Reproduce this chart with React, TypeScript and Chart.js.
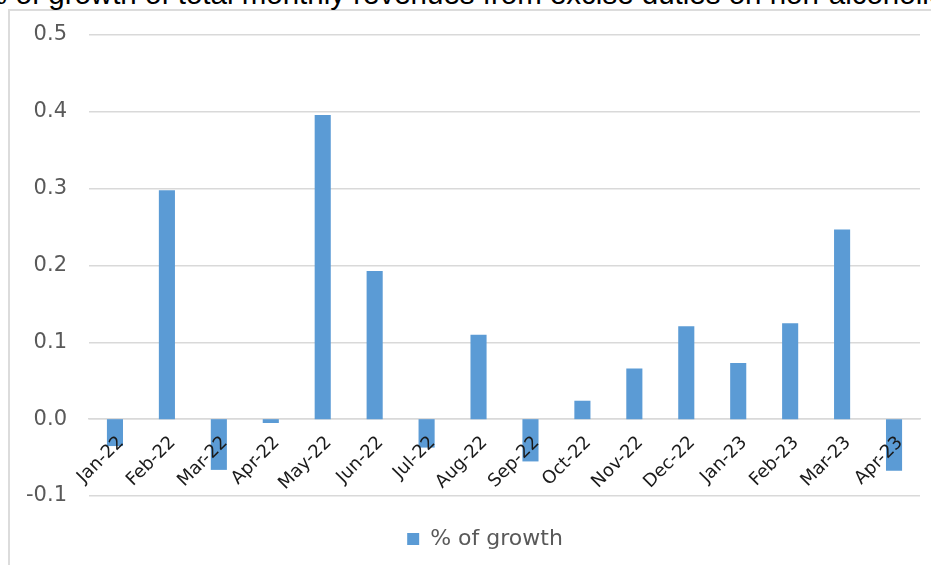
import React, { useEffect, useRef } from "react";
import { Chart, registerables } from "chart.js";

Chart.register(...registerables);

// Monthly categories on the horizontal axis
const months: string[] = [
  "Jan-22", "Feb-22", "Mar-22", "Apr-22", "May-22", "Jun-22", "Jul-22", "Aug-22",
  "Sep-22", "Oct-22", "Nov-22", "Dec-22", "Jan-23", "Feb-23", "Mar-23", "Apr-23",
];

// Month-on-month growth of excise revenues (share, not percent)
const growth: number[] = [
  -0.035, 0.298, -0.066, -0.005, 0.396, 0.193, -0.037, 0.110,
  -0.055, 0.024, 0.066, 0.121, 0.073, 0.125, 0.247, -0.067,
];

const seriesLabel = "% of growth";
const titleText = "% of growth of total monthly revenues from excise duties on non-alcoholic";

// Value axis range and spacing
const yMin = -0.1;
const yMax = 0.5;
const yStep = 0.1;

const BAR_BLUE = "#5B9BD5";
const GRID_GREY = "#d9d9d9";
const FONT = "'DejaVu Sans', Verdana, sans-serif";

// Nudges the bottom legend so it sits centred under the frame, lower down.
const legendPlacement = {
  id: "legendPlacement",
  afterLayout(chart: any) {
    const lg = chart.legend;
    if (!lg) return;
    lg.top += 22;
    lg.bottom += 22;
    lg.left += 25;
    lg.right += 25;
  },
};

export default function App() {
  const canvasRef = useRef<HTMLCanvasElement | null>(null);

  useEffect(() => {
    const canvas = canvasRef.current;
    if (!canvas) return;
    const chart = new Chart(canvas, {
      type: "bar",
      data: {
        labels: months,
        datasets: [
          {
            label: seriesLabel,
            data: growth,
            backgroundColor: BAR_BLUE,
            borderWidth: 0,
            barPercentage: 0.31,
            categoryPercentage: 1,
          },
        ],
      },
      plugins: [legendPlacement],
      options: {
        animation: false,
        responsive: false,
        maintainAspectRatio: false,
        layout: { padding: { left: 0, right: 11, top: 35, bottom: 27 } },
        plugins: {
          title: { display: false },
          tooltip: { enabled: false },
          legend: {
            display: true,
            position: "bottom",
            labels: {
              boxWidth: 12,
              boxHeight: 12,
              padding: 10,
              color: "#595959",
              font: { family: FONT, size: 22 },
            },
          },
        },
        scales: {
          x: {
            position: { y: 0 } as any,
            offset: true,
            grid: { display: false, drawTicks: false },
            border: { display: true, color: GRID_GREY, width: 1.5 },
            ticks: {
              z: 1,
              autoSkip: false,
              maxRotation: 45,
              minRotation: 45,
              padding: 13,
              labelOffset: 6,
              color: "#1a1a1a",
              font: { family: FONT, size: 18 },
            },
          },
          y: {
            min: yMin,
            max: yMax,
            grid: { color: GRID_GREY, lineWidth: 1.5, drawTicks: false },
            border: { display: false },
            ticks: {
              stepSize: yStep,
              padding: 22,
              color: "#595959",
              font: { family: FONT, size: 21 },
              callback: (v: any) => {
                const n = Number(v);
                return (Math.abs(n) < 1e-9 ? 0 : n).toFixed(1);
              },
            },
            afterFit: (scale: any) => {
              scale.width = 89;
            },
          },
        },
      },
    });
    return () => chart.destroy();
  }, []);

  return (
    <div
      style={{
        position: "fixed",
        left: 0,
        top: 0,
        width: 931,
        height: 565,
        overflow: "hidden",
        background: "#ffffff",
      }}
    >
      <div
        style={{
          position: "absolute",
          left: 8,
          top: 9,
          width: 1000,
          height: 700,
          border: "2px solid #dcdcdc",
          boxSizing: "border-box",
        }}
      />
      <div
        style={{
          position: "absolute",
          left: -19,
          top: -21,
          whiteSpace: "nowrap",
          fontFamily: "'Liberation Sans', Arial, sans-serif",
          fontSize: 29.5,
          lineHeight: "29px",
          color: "#000000",
        }}
      >
        {titleText}
      </div>
      <canvas
        ref={canvasRef}
        width={931}
        height={565}
        style={{ position: "absolute", left: 0, top: 0, width: 931, height: 565 }}
      />
    </div>
  );
}
